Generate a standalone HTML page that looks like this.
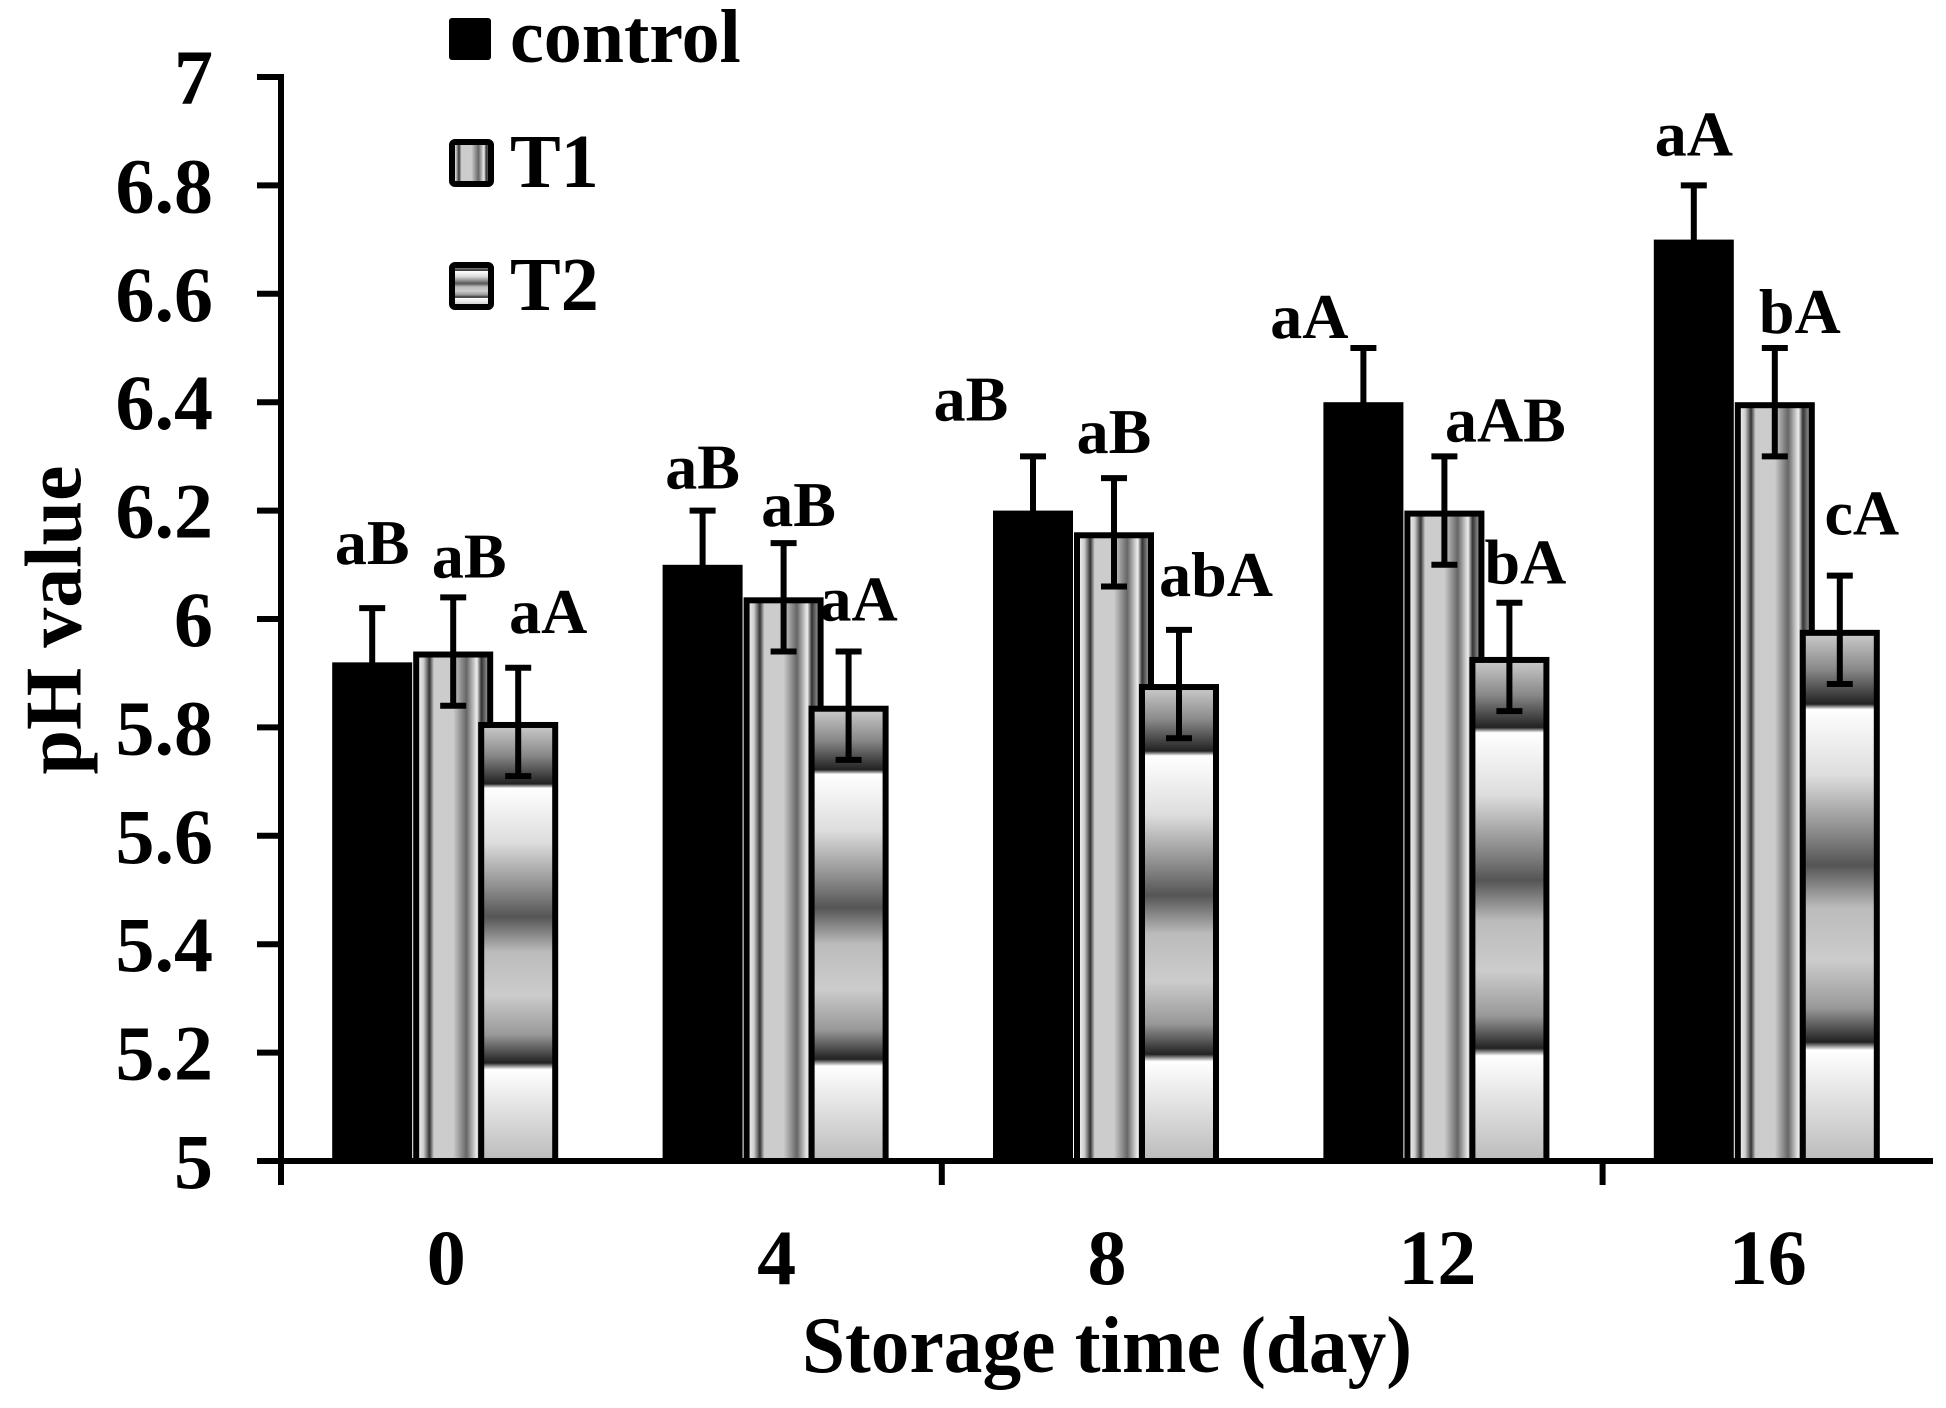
<!DOCTYPE html>
<html><head><meta charset="utf-8"><style>
html,body{margin:0;padding:0;background:#fff}
svg{display:block}
text{font-family:"Liberation Serif",serif;font-weight:bold;fill:#000}
</style></head><body>
<svg id="chart" width="1946" height="1408" viewBox="0 0 1946 1408">
<defs>
<linearGradient id="gT1" x1="0" y1="0" x2="1" y2="0">
<stop offset="0" stop-color="#fff"/><stop offset="0.1" stop-color="#ccc"/><stop offset="0.18" stop-color="#333"/><stop offset="0.24" stop-color="#ccc"/><stop offset="0.5" stop-color="#ccc"/><stop offset="0.68" stop-color="#666"/><stop offset="0.82" stop-color="#eee"/><stop offset="0.88" stop-color="#333"/><stop offset="1" stop-color="#bbb"/>
</linearGradient>
<linearGradient id="gT2" x1="0" y1="0" x2="0" y2="1">
<stop offset="0" stop-color="#ccc"/><stop offset="0.07" stop-color="#888"/><stop offset="0.135" stop-color="#222"/><stop offset="0.145" stop-color="#fff"/><stop offset="0.27" stop-color="#ddd"/><stop offset="0.38" stop-color="#888"/><stop offset="0.44" stop-color="#555"/><stop offset="0.52" stop-color="#bbb"/><stop offset="0.62" stop-color="#ccc"/><stop offset="0.71" stop-color="#999"/><stop offset="0.775" stop-color="#222"/><stop offset="0.79" stop-color="#fff"/><stop offset="1" stop-color="#bbb"/>
</linearGradient>
</defs>
<g id="plot"></g>
<text x="62" y="620" font-size="80" text-anchor="middle" transform="rotate(-90 62 620)" dominant-baseline="middle">pH value</text>
<text x="1107" y="1372" font-size="80" text-anchor="middle" textLength="610" lengthAdjust="spacingAndGlyphs">Storage time (day)</text>
<g>
<rect x="449" y="18" width="42" height="42" rx="3" fill="#000"/>
<text x="510" y="62" font-size="76">control</text>
<rect x="452" y="142" width="39" height="42" rx="3" fill="url(#gT1)" stroke="#000" stroke-width="6"/>
<text x="510" y="187" font-size="76">T1</text>
<rect x="452" y="265" width="39" height="42" rx="3" fill="url(#gT2)" stroke="#000" stroke-width="6"/>
<text x="510" y="310" font-size="76">T2</text>
</g>
</svg>
<script>
const categories = ["0","4","8","12","16"];
const yTicks = [5,5.2,5.4,5.6,5.8,6,6.2,6.4,6.6,6.8,7];
const yTickLabels = ["5","5.2","5.4","5.6","5.8","6","6.2","6.4","6.6","6.8","7"];
const controlValues = [5.92,6.10,6.20,6.40,6.70];
const t1Values = [5.94,6.04,6.16,6.20,6.40];
const t2Values = [5.81,5.84,5.88,5.93,5.98];
const controlErr = [0.1,0.1,0.1,0.1,0.1];
const t1Err = [0.1,0.1,0.1,0.1,0.1];
const t2Err = [0.1,0.1,0.1,0.1,0.1];
const controlLabels = ["aB","aB","aB","aA","aA"];
const t1Labels = ["aB","aB","aB","aAB","bA"];
const t2Labels = ["aA","aA","abA","bA","cA"];

const NS="http://www.w3.org/2000/svg";
const g=document.getElementById('plot');
const X0=281, X1=1933, YTOP=77, YBOT=1161, VMIN=5, VMAX=7;
const band=(X1-X0)/categories.length;
function y(v){return YBOT-(v-VMIN)/(VMAX-VMIN)*(YBOT-YTOP);}
function xc(i){return X0+band*(i+0.5);}
function mk(tag,attrs){const e=document.createElementNS(NS,tag);for(const k in attrs)e.setAttribute(k,attrs[k]);g.appendChild(e);return e;}

// label placement nudges (layout, px)
const ctrlLabelDx=[0,0,-62,-54,0], ctrlLabelDy=[44,22,36,10,30];
const t1LabelDx=[16,15,0,61,25], t1LabelDy=[20,17,25,15,15];
const t2LabelDx=[30,10,37,16,22], t2LabelDy=[35,31,34,19,41];

const series=[
 {vals:controlValues,err:controlErr,labs:controlLabels,off:-114,fill:"#000",stroke:"none",dx:ctrlLabelDx,dy:ctrlLabelDy,name:"control"},
 {vals:t1Values,err:t1Err,labs:t1Labels,off:-33,fill:"url(#gT1)",stroke:"#000",dx:t1LabelDx,dy:t1LabelDy,name:"t1"},
 {vals:t2Values,err:t2Err,labs:t2Labels,off:32,fill:"url(#gT2)",stroke:"#000",dx:t2LabelDx,dy:t2LabelDy,name:"t2"}
];
const BW=80;
series.forEach(s=>{
 s.vals.forEach((v,i)=>{
  const left=xc(i)+s.off, top=y(v);
  const inset=(s.stroke==="none"?0:3);
  const r=mk('rect',{x:left+inset,y:top+inset,width:BW-2*inset,height:YBOT-top-inset,fill:s.fill,stroke:s.stroke,'stroke-width':6});
  
  
 });
});
series.forEach(s=>{
 s.vals.forEach((v,i)=>{
  const cx=xc(i)+s.off+BW/2, yt=y(v+s.err[i]), yb=y(v-s.err[i]);
  const e=mk('path',{d:`M${cx},${yt}V${yb}M${cx-13},${yt}H${cx+13}M${cx-13},${yb}H${cx+13}`,stroke:"#000",'stroke-width':6,fill:"none"});
  
  
  const t=mk('text',{x:cx+s.dx[i],y:yt-s.dy[i],'font-size':64,'text-anchor':'middle'});
  t.textContent=s.labs[i];
  
  
 });
});
const ya=mk('line',{x1:X0,y1:YTOP-3,x2:X0,y2:1185,stroke:"#000",'stroke-width':6});


const xa=mk('line',{x1:X0-24,y1:YBOT,x2:X1,y2:YBOT,stroke:"#000",'stroke-width':6});


[2,4].forEach(k=>{
 const t=mk('line',{x1:X0+band*k,y1:YBOT,x2:X0+band*k,y2:1185,stroke:"#000",'stroke-width':6});
 
 
});
yTicks.forEach((v,i)=>{
 const t=mk('line',{x1:257,y1:y(v),x2:X0,y2:y(v),stroke:"#000",'stroke-width':6});
 
 
 const l=mk('text',{x:213,y:y(v)+27,'font-size':78,'text-anchor':'end'});
 l.textContent=yTickLabels[i];
 
 
});
categories.forEach((c,i)=>{
 const l=mk('text',{x:xc(i),y:1284,'font-size':78,'text-anchor':'middle'});
 l.textContent=c;
 
 
});
</script>
</body></html>
